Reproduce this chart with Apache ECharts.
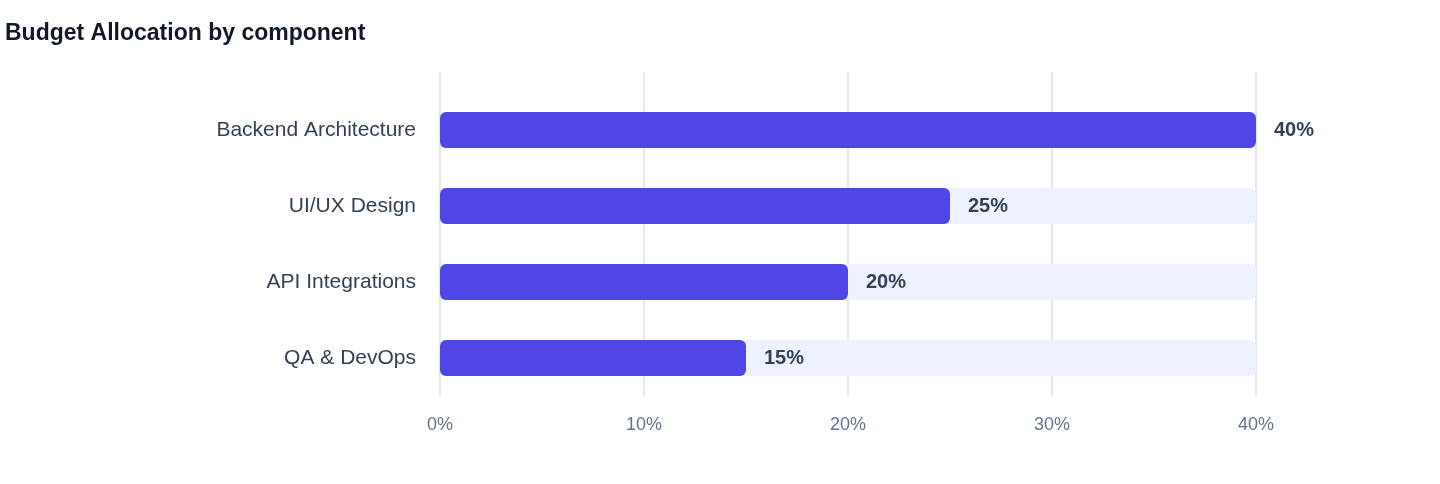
<!DOCTYPE html>
<html><head><meta charset="utf-8">
<script src="https://cdn.jsdelivr.net/npm/echarts@6/dist/echarts.min.js"></script>
<style>html,body{margin:0;padding:0;background:#fff}#c{width:1440px;height:484px}</style>
</head><body><div id="c"></div>
<script>
const categories = ["Backend Architecture", "UI/UX Design", "API Integrations", "QA & DevOps"];
const values = [40, 25, 20, 15];
const tickLabels = ["0%", "10%", "20%", "30%", "40%"];
const F = 'Liberation Sans, Arial, sans-serif';
const chart = echarts.init(document.getElementById('c'));
chart.setOption({
  animation: false,
  title: { text: 'Budget Allocation by component', left: 0, top: 17,
    textStyle: { fontFamily: F, fontSize: 23, fontWeight: 'bold', color: '#111827' } },
  grid: [
    { left: 440, right: 184, top: 92, bottom: 88 },
    { left: 440, right: 184, top: 72, bottom: 88 }
  ],
  xAxis: [
    { type: 'value', gridIndex: 0, min: 0, max: 40, interval: 10,
      axisLabel: { formatter: v => tickLabels[v / 10], color: '#64748b', fontFamily: F, fontSize: 18, margin: 20 },
      splitLine: { show: false }, axisLine: { show: false }, axisTick: { show: false } },
    { type: 'value', gridIndex: 1, min: 0, max: 40, interval: 10,
      axisLabel: { show: false },
      splitLine: { lineStyle: { color: '#e2e8f0', width: 2 } },
      axisLine: { show: false }, axisTick: { show: false } }
  ],
  yAxis: [
    { type: 'category', gridIndex: 0, data: categories, inverse: true,
      axisLabel: { color: '#334155', fontFamily: F, fontSize: 21, margin: 24 },
      axisLine: { show: false }, axisTick: { show: false } },
    { type: 'category', gridIndex: 1, data: categories, show: false }
  ],
  series: [{
    type: 'bar', data: values, barWidth: 36, xAxisIndex: 0, yAxisIndex: 0, z: 3,
    itemStyle: { color: '#4F46E5', borderRadius: 6 },
    showBackground: true,
    backgroundStyle: { color: '#EEF2FF', borderRadius: 6 },
    label: { show: true, position: 'right', distance: 18, formatter: '{c}%',
      color: '#334155', fontFamily: F, fontSize: 20, fontWeight: 'bold' }
  }]
});
</script></body></html>
